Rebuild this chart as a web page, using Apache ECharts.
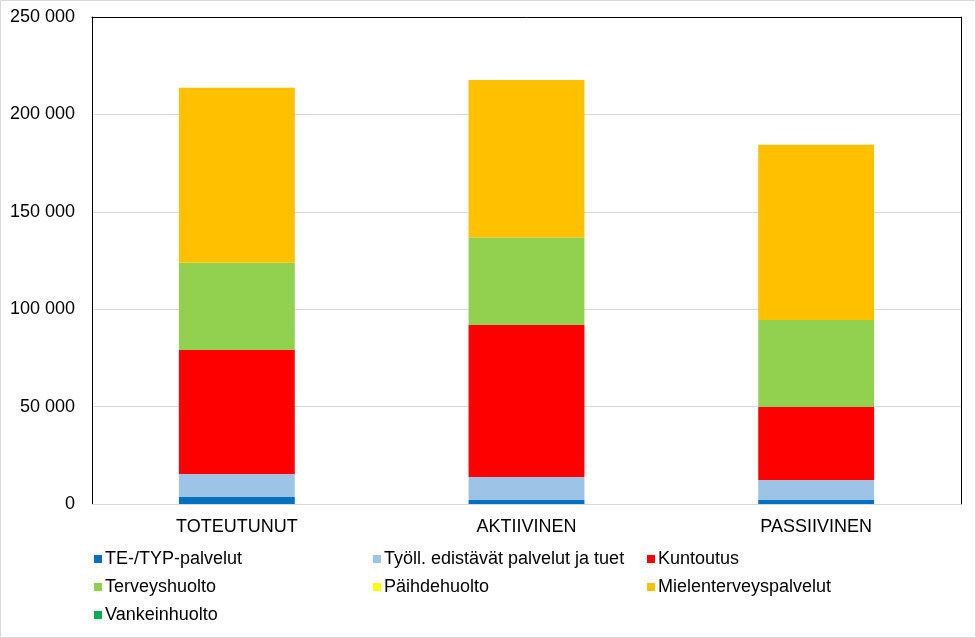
<!DOCTYPE html>
<html>
<head>
<meta charset="utf-8">
<script src="https://cdn.jsdelivr.net/npm/echarts@6/dist/echarts.min.js"></script>
<style>
  html, body { margin: 0; padding: 0; background: #fff; }
  #chart { width: 976px; height: 638px; }
</style>
</head>
<body>
<div id="chart"></div>
<script>
// categories and series values
const categories = ['TOTEUTUNUT', 'AKTIIVINEN', 'PASSIIVINEN']
const tePalvelut = [3600, 2000, 2000]
const tyollPalvelut = [11800, 11900, 10300]
const kuntoutus = [63700, 78000, 37500]
const terveyshuolto = [44700, 44900, 44700]
const paihdehuolto = [0, 0, 0]
const mielenterveys = [89900, 80900, 89900]
const vankeinhuolto = [0, 0, 0]

const seriesDefs = [
  { name: 'TE-/TYP-palvelut', data: tePalvelut, color: '#0070C0' },
  { name: 'Työll. edistävät palvelut ja tuet', data: tyollPalvelut, color: '#9DC3E6' },
  { name: 'Kuntoutus', data: kuntoutus, color: '#FF0000' },
  { name: 'Terveyshuolto', data: terveyshuolto, color: '#92D050' },
  { name: 'Päihdehuolto', data: paihdehuolto, color: '#FFFF00' },
  { name: 'Mielenterveyspalvelut', data: mielenterveys, color: '#FFC000' },
  { name: 'Vankeinhuolto', data: vankeinhuolto, color: '#00B050' }
]

const font = '"Liberation Sans", Arial, sans-serif'

const legendBase = {
  orient: 'vertical',
  top: 545,
  itemWidth: 8,
  itemHeight: 8,
  itemGap: 10,
  icon: 'rect',
  selectedMode: false,
  textStyle: { fontFamily: font, fontSize: 18, color: '#000', padding: [0, 0, 0, -2] }
}

const chart = echarts.init(document.getElementById('chart'))

chart.setOption({
  animation: false,
  textStyle: { fontFamily: font },
  graphic: [{
    type: 'rect',
    shape: { x: 0.5, y: 0.5, width: 975, height: 637 },
    style: { fill: 'none', stroke: '#d9d9d9', lineWidth: 1 },
    silent: true
  }],
  legend: [
    Object.assign({}, legendBase, { left: 89, data: ['TE-/TYP-palvelut', 'Terveyshuolto', 'Vankeinhuolto'] }),
    Object.assign({}, legendBase, { left: 368, data: ['Työll. edistävät palvelut ja tuet', 'Päihdehuolto'] }),
    Object.assign({}, legendBase, { left: 642, data: ['Kuntoutus', 'Mielenterveyspalvelut'] })
  ],
  grid: {
    left: 92,
    right: 15,
    top: 17,
    bottom: 134
  },
  xAxis: [{
    type: 'category',
    data: categories,
    axisLine: { onZero: false, lineStyle: { color: '#d9d9d9', width: 1 } },
    axisTick: { show: false },
    axisLabel: { color: '#000', fontSize: 18, margin: 14, fontFamily: font }
  }, {
    // top frame line of the plot area
    type: 'category',
    position: 'top',
    data: categories,
    axisLine: { show: true, onZero: false, lineStyle: { color: '#000' } },
    axisTick: { show: false },
    axisLabel: { show: false },
    splitLine: { show: false }
  }],
  yAxis: [{
    type: 'value',
    min: 0,
    max: 250000,
    interval: 50000,
    axisLine: { show: true, lineStyle: { color: '#000' } },
    axisTick: { show: false },
    splitLine: { lineStyle: { color: '#d9d9d9' } },
    axisLabel: {
      color: '#000',
      fontSize: 18,
      margin: 17,
      fontFamily: font,
      formatter: v => String(v).replace(/\B(?=(\d{3})+(?!\d))/g, ' ')
    }
  }, {
    // right frame line of the plot area
    type: 'value',
    position: 'right',
    min: 0,
    max: 250000,
    interval: 50000,
    axisLine: { show: true, lineStyle: { color: '#000' } },
    axisTick: { show: false },
    axisLabel: { show: false },
    splitLine: { show: false }
  }],
  series: seriesDefs.map(s => ({
    name: s.name,
    type: 'bar',
    stack: 'total',
    barWidth: '40%',
    data: s.data,
    itemStyle: { color: s.color }
  }))
})
</script>
</body>
</html>
